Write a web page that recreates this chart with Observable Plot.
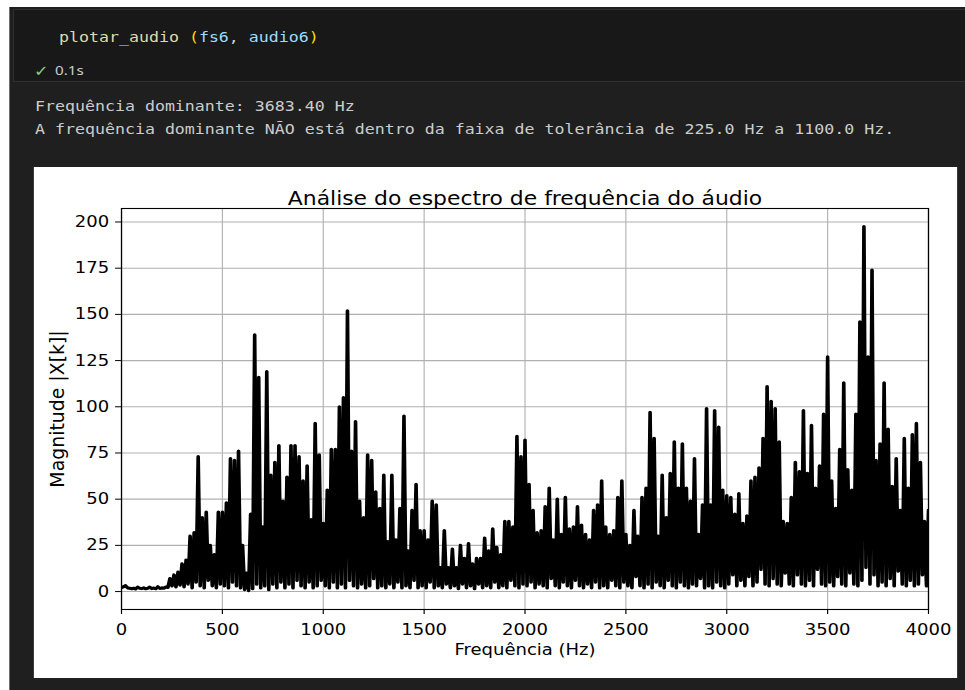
<!DOCTYPE html>
<html>
<head>
<meta charset="utf-8">
<script src="https://cdn.jsdelivr.net/npm/d3@7"></script>
<script src="https://cdn.jsdelivr.net/npm/@observablehq/plot@0.6"></script>
<style>
  html, body { margin: 0; padding: 0; background: #ffffff; width: 965px; height: 690px; overflow: hidden; }
  #stage { position: absolute; left: 0; top: 0; height: 690px; transform-origin: 0 0; }
  .abs { position: absolute; }
</style>
</head>
<body>
<div id="stage"></div>
<script>
// ---------- data ----------
const titleText = "Análise do espectro de frequência do áudio";
const xLabelText = "Frequência (Hz)";
const yLabelText = "Magnitude |X[k]|";
const xTicks = [0, 500, 1000, 1500, 2000, 2500, 3000, 3500, 4000];
const yTicks = [0, 25, 50, 75, 100, 125, 150, 175, 200];
const binStepHz = 10; // spectrum bins every 10 Hz from 0 Hz

// magnitudes |X[k]|, 0 – 990 Hz
const mag0000 = [
  2.2, 2.6, 3.2, 2.0, 1.8, 1.5, 1.8, 1.4, 2.4, 1.8,
  1.6, 2.0, 1.5, 1.8, 2.4, 1.6, 1.9, 1.5, 2.6, 1.7,
  2.0, 1.8, 2.5, 2.2, 7.0, 3.0, 9.0, 2.5, 10.5, 3.5,
  15, 2.5, 17, 4, 30, 2, 32, 5, 73, 3,
  40, 2, 43, 6, 25, 3, 20, 2, 43, 4,
  43, 3, 48, 2, 72, 5, 71, 3, 76, 2,
  25, 1, 10, 0.5, 42, 1.5, 139, 4, 116, 2,
  35, 3, 119, 1, 63, 4, 70, 2, 79, 5,
  49, 2, 62, 4, 79, 2, 79, 6, 73, 3,
  60, 2, 68, 5, 39, 2, 91, 3, 74, 6
];
// 1000 – 1990 Hz
const mag1000 = [
  37, 3, 55, 2, 77, 5, 77, 2, 100, 4,
  105, 2, 152, 6, 76, 3, 92, 2, 49, 4,
  40, 2, 74, 3, 71, 7, 54, 2, 45, 3,
  63, 2, 27, 4, 63, 2, 28, 5, 45, 2,
  95, 3, 22, 2, 44, 6, 58, 2, 33, 3,
  33, 2, 28, 5, 49, 2, 47, 3, 13, 2,
  33, 4, 13, 2, 23, 3, 13, 1.5, 25, 4,
  18, 2, 26, 3, 15, 1.5, 18, 4, 18, 2,
  29, 3, 22, 2, 34, 5, 24, 2, 20, 3,
  38, 2, 38, 6, 35, 3, 84, 2, 73, 4
];
// 2000 – 2990 Hz
const mag2000 = [
  82, 3, 58, 5, 44, 2, 32, 4, 33, 3,
  46, 2, 56, 7, 28, 3, 50, 2, 31, 5,
  51, 3, 34, 2, 35, 6, 46, 3, 36, 2,
  31, 4, 28, 2, 44, 5, 47, 2, 60, 3,
  35, 2, 31, 6, 33, 3, 51, 2, 60, 5,
  31, 3, 25, 2, 44, 8, 30, 3, 51, 2,
  56, 4, 97, 2, 83, 5, 30, 3, 63, 2,
  40, 6, 64, 3, 81, 2, 56, 5, 80, 3,
  56, 2, 49, 4, 72, 3, 31, 7, 47, 2,
  99, 3, 47, 2, 98, 5, 89, 3, 55, 2
];
// 3000 – 3990 Hz
const mag3000 = [
  52, 4, 51, 9, 42, 3, 53, 6, 37, 3,
  41, 8, 60, 3, 62, 5, 67, 12, 83, 4,
  111, 3, 103, 7, 99, 4, 81, 3, 38, 10,
  37, 4, 51, 3, 70, 9, 65, 4, 98, 3,
  64, 6, 90, 3, 56, 12, 68, 4, 96, 3,
  127, 5, 60, 3, 45, 8, 77, 4, 113, 3,
  66, 10, 55, 4, 96, 3, 146, 6, 197.5, 13,
  127, 4, 174, 9, 71, 3, 80, 5, 113, 3,
  88, 7, 57, 3, 72, 11, 44, 4, 83, 3,
  56, 6, 85, 3, 91, 4, 70, 9, 38, 3
];
// 4000 Hz
const mag4000 = [44];

// notebook text
const codeParts = [
  ["plotar_audio", "#dcdcaa"], [" ", "#d4d4d4"], ["(", "#ffd700"],
  ["fs6", "#9cdcfe"], [", ", "#d4d4d4"], ["audio6", "#9cdcfe"], [")", "#ffd700"]
];
const checkMark = "✓";
const execTime = "0.1s";
const outputLines = [
  "Frequência dominante: 3683.40 Hz",
  "A frequência dominante NÃO está dentro da faixa de tolerância de 225.0 Hz a 1100.0 Hz."
];

// ---------- layout ----------
const S = 1.17;            // horizontal stretch of the screenshot
const X = v => v / S;      // screen x -> stage x

const stage = document.getElementById("stage");
stage.style.width = X(965) + "px";
stage.style.transform = `scaleX(${S})`;

// dark notebook background
const dark = document.createElement("div");
dark.className = "abs";
Object.assign(dark.style, {left: X(9) + "px", top: "7px", width: X(956) + "px", height: "683px", background: "#1f1f1f"});
stage.appendChild(dark);

// header svg (code cell + output text)
const hdr = d3.create("svg")
  .attr("width", X(965)).attr("height", 167)
  .style("position", "absolute").style("left", "0px").style("top", "0px");
hdr.append("rect")
  .attr("x", X(13) + 0.5).attr("y", 9.5)
  .attr("width", X(965 - 13) + 20).attr("height", 72)
  .attr("fill", "#181818").attr("stroke", "#303030").attr("stroke-width", 1);
const code = hdr.append("text")
  .attr("x", X(59)).attr("y", 42)
  .style("font-family", "'DejaVu Sans Mono', monospace").style("font-size", "14.2px");
codeParts.forEach(([t, c]) => code.append("tspan").attr("fill", c).style("white-space", "pre").text(t));
hdr.append("text").attr("x", X(34)).attr("y", 76)
  .attr("fill", "#89d185").style("font-family", "'DejaVu Sans'").style("font-size", "15px").text(checkMark);
hdr.append("text").attr("x", X(55)).attr("y", 75.5)
  .attr("fill", "#cccccc").style("font-family", "'Noto Sans', sans-serif").style("font-size", "13px").text(execTime);
outputLines.forEach((t, i) => {
  hdr.append("text").attr("x", X(35)).attr("y", 111 + i * 23)
    .attr("fill", "#cccccc").style("font-family", "'DejaVu Sans Mono', monospace").style("font-size", "14.2px")
    .style("white-space", "pre").text(t);
});
stage.appendChild(hdr.node());

// ---------- chart ----------
const allMag = [...mag0000, ...mag1000, ...mag2000, ...mag3000, ...mag4000];
const spectrum = allMag.map((m, i) => ({f: i * binStepHz, m}));

const card = document.createElement("div");
card.className = "abs";
Object.assign(card.style, {left: X(34) + "px", top: "167px", width: X(923) + "px", height: "511px", background: "#ffffff"});
stage.appendChild(card);

const chart = Plot.plot({
  width: X(923), height: 511,
  marginLeft: X(87), marginRight: X(29), marginTop: 41, marginBottom: 69,
  style: {fontFamily: "'DejaVu Sans', sans-serif", fontSize: "15.4px", background: "#ffffff", color: "#000000", overflow: "visible"},
  x: {domain: [0, 4000]},
  y: {domain: [-9.7, 207.3]},
  marks: [
    Plot.gridX(xTicks, {stroke: "#b0b0b0", strokeOpacity: 1, strokeWidth: 0.95}),
    Plot.gridY(yTicks, {stroke: "#b0b0b0", strokeOpacity: 1, strokeWidth: 1.1}),
    Plot.line(spectrum, {x: "f", y: "m", stroke: "#000000", strokeWidth: 3.1, strokeLinejoin: "round", strokeLinecap: "round", clip: true}),
    Plot.frame({stroke: "#000000", strokeWidth: 1.1}),
    Plot.axisX(xTicks, {tickSize: 5, tickPadding: 10, label: null, tickFormat: d => String(d)}),
    Plot.axisY(yTicks, {tickSize: 5, tickPadding: 5.5, label: null, tickFormat: d => String(d)}),
    Plot.text([titleText], {text: d => d, frameAnchor: "top", dy: -17, fontSize: 18.7, fill: "#000000"}),
    Plot.text([xLabelText], {text: d => d, frameAnchor: "bottom", dy: 45.5, fontSize: 15.4, fill: "#000000"}),
    Plot.text([yLabelText], {text: d => d, frameAnchor: "left", textAnchor: "middle", dx: -X(64), rotate: -90, fontSize: 18.9, fill: "#000000"})
  ]
});
// the rotated y label is not stretched in the reference: undo the page stretch on its thickness
d3.select(chart).selectAll("text")
  .filter(function() { return this.textContent === yLabelText; })
  .attr("transform", function() { return (this.getAttribute("transform") || "") + ` scale(1, ${1 / S})`; });
card.appendChild(chart);
</script>
</body>
</html>
